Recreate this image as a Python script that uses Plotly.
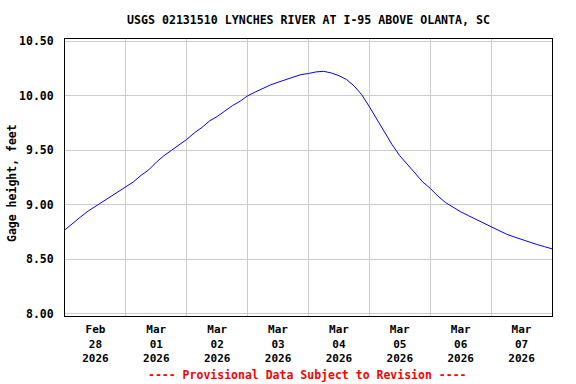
import pandas as pd
import plotly.graph_objects as go

# Gage height readings (feet), every 3 hours from 2026-02-28 00:00
gage_height = [
    8.77, 8.83, 8.885, 8.94, 8.985, 9.03, 9.07, 9.12,
    9.165, 9.21, 9.27, 9.32, 9.39, 9.45, 9.50, 9.55,
    9.60, 9.66, 9.71, 9.77, 9.81, 9.86, 9.91, 9.95,
    10.00, 10.035, 10.07, 10.10, 10.125, 10.15, 10.175, 10.195,
    10.205, 10.22, 10.225, 10.21, 10.185, 10.15, 10.09, 10.01,
    9.90, 9.78, 9.66, 9.55, 9.45, 9.37, 9.28, 9.21,
    9.15, 9.08, 9.02, 8.975, 8.935, 8.90, 8.865, 8.83,
    8.795, 8.76, 8.73, 8.705, 8.68, 8.655, 8.635, 8.615,
    8.595,
]
times = pd.date_range("2026-02-28 00:00", periods=len(gage_height), freq="3h")

day_labels = ["Feb<br>28<br>2026", "Mar<br>01<br>2026", "Mar<br>02<br>2026", "Mar<br>03<br>2026",
              "Mar<br>04<br>2026", "Mar<br>05<br>2026", "Mar<br>06<br>2026", "Mar<br>07<br>2026"]
label_pos = pd.date_range("2026-02-28 12:00", periods=8, freq="1D")
grid_pos = pd.date_range("2026-02-28 00:00", periods=9, freq="1D")
y_ticks = [8.0, 8.5, 9.0, 9.5, 10.0, 10.5]

FONT = "DejaVu Sans Mono"

fig = go.Figure()
fig.add_trace(go.Scatter(x=times, y=gage_height, mode="lines",
                         line=dict(color="#0000FF", width=1), hoverinfo="skip"))

fig.update_layout(
    width=576, height=384,
    margin=dict(l=65, r=24, t=39, b=68),
    paper_bgcolor="white", plot_bgcolor="white",
    showlegend=False,
    font=dict(family=FONT, size=11.5, color="black", weight="bold"),
    title=dict(text="USGS 02131510 LYNCHES RIVER AT I-95 ABOVE OLANTA, SC",
               x=(308.5 / 576), xanchor="center", y=1 - 20 / 384, yanchor="middle",
               font=dict(family=FONT, size=11.6, color="black", weight="bold")),
)

fig.update_xaxes(
    range=[grid_pos[0], grid_pos[-1]],
    tickvals=list(label_pos), ticktext=day_labels, tickangle=0,
    showgrid=False, ticks="", ticklabelstandoff=3,
    minor=dict(tickvals=list(grid_pos), showgrid=True, gridcolor="#cccccc", gridwidth=1, ticks=""),
    showline=True, mirror=True, linecolor="black", linewidth=1,
    zeroline=False, automargin=False,
    tickfont=dict(family=FONT, size=11, color="black", weight="bold"),
)
fig.update_yaxes(
    range=[7.978, 10.522],
    tickvals=y_ticks, tickformat=".2f",
    showgrid=True, gridcolor="#cccccc", gridwidth=1,
    ticks="", ticklabelstandoff=8,
    showline=True, mirror=True, linecolor="black", linewidth=1,
    zeroline=False, automargin=False,
    tickfont=dict(family=FONT, size=11.5, color="black", weight="bold"),
)

fig.add_annotation(text="Gage height, feet", textangle=-90,
                   xref="paper", yref="paper", x=(12 - 65) / 487, y=(316 - 183) / 277,
                   xanchor="center", yanchor="middle", showarrow=False,
                   font=dict(family=FONT, size=11.5, color="black", weight="bold"))
fig.add_annotation(text="---- Provisional Data Subject to Revision ----",
                   xref="paper", yref="paper", x=(307 - 65) / 487, y=(316 - 375) / 277,
                   xanchor="center", yanchor="middle", showarrow=False,
                   font=dict(family=FONT, size=11.5, color="#FF0000", weight="bold"))

fig.write_html("out.html", config={"displayModeBar": False, "staticPlot": True},
               post_script="document.body.style.margin='0';document.body.style.padding='0';")
